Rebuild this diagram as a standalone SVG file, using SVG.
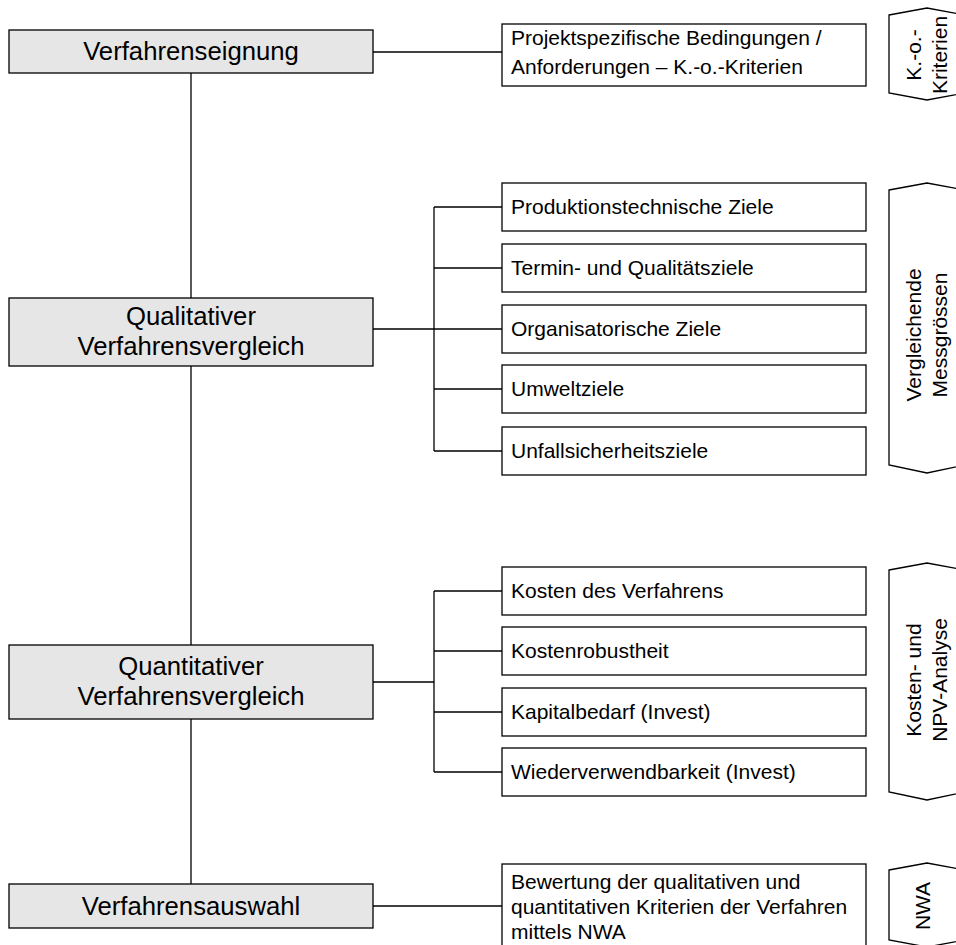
<svg xmlns="http://www.w3.org/2000/svg" width="956" height="945" viewBox="0 0 956 945">
  <style>
    .main rect { fill: #e6e6e6; stroke: #000; stroke-width: 1.3; }
    .main text { font-family: "Liberation Sans", Arial, sans-serif; font-size: 25.7px; text-anchor: middle; fill: #000; }
    .item rect { fill: #fff; stroke: #000; stroke-width: 1.3; }
    .item text { font-family: "Liberation Sans", Arial, sans-serif; font-size: 21px; fill: #000; }
    .tag path { fill: #fff; stroke: #000; stroke-width: 1.3; }
    .tag text { font-family: "Liberation Sans", Arial, sans-serif; font-size: 21px; text-anchor: middle; fill: #000; }
    #connectors path { fill: none; stroke: #000; stroke-width: 1.3; }
  </style>

  <!-- connectors -->
  <g id="connectors">
    <path d="M191 73 V298 M191 366 V645 M191 719 V884"/>
    <path d="M373 52 H502"/>
    <path d="M373 329 H502 M434 207 V451 M434 207 H502 M434 268 H502 M434 389 H502 M434 451 H502"/>
    <path d="M373 682 H434 M434 591 V772 M434 591 H502 M434 651 H502 M434 712 H502 M434 772 H502"/>
    <path d="M373 906 H502"/>
  </g>

  <!-- main process steps -->
  <g id="step-eignung" class="main">
    <rect x="9" y="30" width="364" height="43"/>
    <text x="191" y="60">Verfahrenseignung</text>
  </g>
  <g id="step-qualitativ" class="main">
    <rect x="9" y="298" width="364" height="68"/>
    <text x="191" y="325">Qualitativer</text>
    <text x="191" y="355">Verfahrensvergleich</text>
  </g>
  <g id="step-quantitativ" class="main">
    <rect x="9" y="645" width="364" height="74"/>
    <text x="191" y="675">Quantitativer</text>
    <text x="191" y="705">Verfahrensvergleich</text>
  </g>
  <g id="step-auswahl" class="main">
    <rect x="9" y="884" width="364" height="44"/>
    <text x="191" y="915">Verfahrensauswahl</text>
  </g>

  <!-- criteria -->
  <g id="item-ko" class="item">
    <rect x="502" y="24" width="364" height="62"/>
    <text x="511" y="45">Projektspezifische Bedingungen /</text>
    <text x="511" y="74">Anforderungen – K.-o.-Kriterien</text>
  </g>
  <g id="item-produktion" class="item">
    <rect x="502" y="183" width="364" height="48"/>
    <text x="511" y="214">Produktionstechnische Ziele</text>
  </g>
  <g id="item-termin" class="item">
    <rect x="502" y="244" width="364" height="48"/>
    <text x="511" y="275">Termin- und Qualitätsziele</text>
  </g>
  <g id="item-organisation" class="item">
    <rect x="502" y="305" width="364" height="48"/>
    <text x="511" y="336">Organisatorische Ziele</text>
  </g>
  <g id="item-umwelt" class="item">
    <rect x="502" y="365" width="364" height="48"/>
    <text x="511" y="396">Umweltziele</text>
  </g>
  <g id="item-unfall" class="item">
    <rect x="502" y="427" width="364" height="48"/>
    <text x="511" y="458">Unfallsicherheitsziele</text>
  </g>
  <g id="item-kosten" class="item">
    <rect x="502" y="567" width="364" height="48"/>
    <text x="511" y="598">Kosten des Verfahrens</text>
  </g>
  <g id="item-robustheit" class="item">
    <rect x="502" y="627" width="364" height="48"/>
    <text x="511" y="658">Kostenrobustheit</text>
  </g>
  <g id="item-kapital" class="item">
    <rect x="502" y="688" width="364" height="48"/>
    <text x="511" y="719">Kapitalbedarf (Invest)</text>
  </g>
  <g id="item-wiederverwendung" class="item">
    <rect x="502" y="748" width="364" height="48"/>
    <text x="511" y="779">Wiederverwendbarkeit (Invest)</text>
  </g>
  <g id="item-bewertung" class="item">
    <rect x="502" y="864" width="364" height="84"/>
    <text x="511" y="889">Bewertung der qualitativen und</text>
    <text x="511" y="914">quantitativen Kriterien der Verfahren</text>
    <text x="511" y="939">mittels NWA</text>
  </g>

  <!-- method tags -->
  <g id="tag-ko" class="tag">
    <path d="M889 15 L927 8 L965 15 V93 L927 100 L889 93 Z"/>
    <text transform="translate(921 55) rotate(-90)">K.-o.-</text>
    <text transform="translate(947 55) rotate(-90)">Kriterien</text>
  </g>
  <g id="tag-messgroessen" class="tag">
    <path d="M889 190 L927 183 L965 190 V465 L927 473 L889 465 Z"/>
    <text transform="translate(921 335) rotate(-90)">Vergleichende</text>
    <text transform="translate(947 335) rotate(-90)">Messgrössen</text>
  </g>
  <g id="tag-kosten" class="tag">
    <path d="M889 570 L927 563 L965 570 V792 L927 800 L889 792 Z"/>
    <text transform="translate(921 680) rotate(-90)">Kosten- und</text>
    <text transform="translate(947 680) rotate(-90)">NPV-Analyse</text>
  </g>
  <g id="tag-nwa" class="tag">
    <path d="M889 870 L927 863 L965 870 V940 L927 947 L889 940 Z"/>
    <text transform="translate(930 906) rotate(-90)">NWA</text>
  </g>
</svg>
